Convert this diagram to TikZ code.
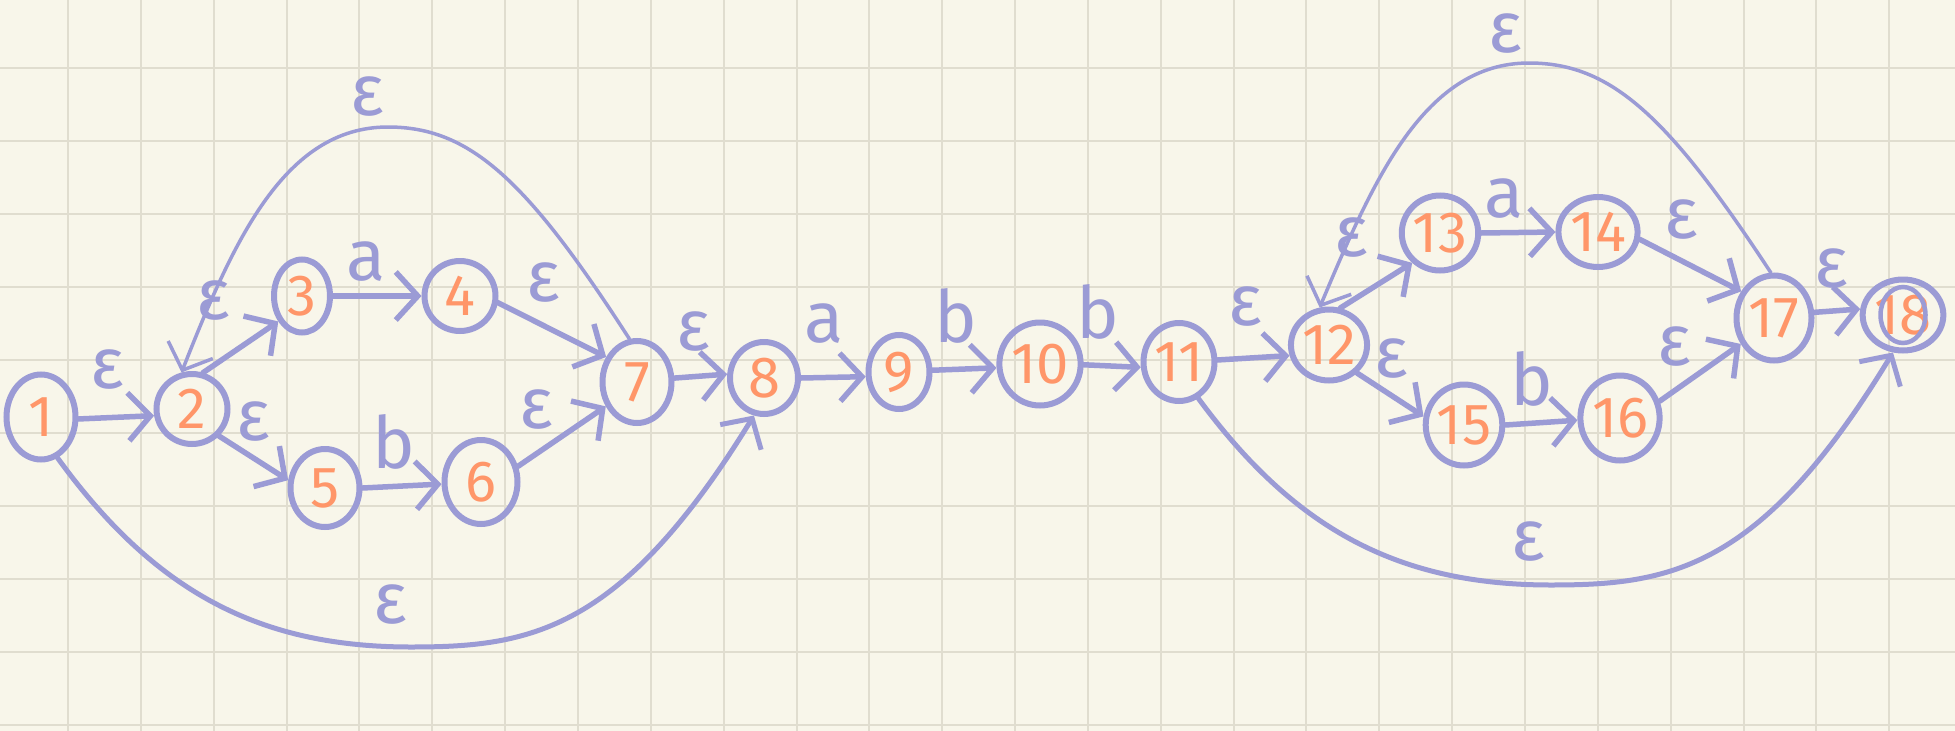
\documentclass[tikz,border=0pt]{standalone}
\usepackage{fontspec}
\setmainfont{Fira Sans}[Numbers=Proportional]
\usetikzlibrary{shapes.geometric,arrows.meta}
\definecolor{paper}{RGB}{248,246,234}
\definecolor{gridc}{RGB}{224,221,207}
\definecolor{ink}{RGB}{155,155,213}
\definecolor{numc}{RGB}{255,150,105}
\begin{document}
\begin{tikzpicture}[x=1pt,y=-1pt,
  st/.style={ellipse, draw=ink, line width=6pt, inner sep=0pt, text=numc,
    font=\fontsize{58}{60}\selectfont},
  tr/.style={draw=ink, line width=5.5pt, line cap=round,
    -{Straight Barb[length=22pt,width=48pt]}},
  thinloop/.style={draw=ink, line width=3.5pt, line cap=round,
    -{Straight Barb[length=22pt,width=48pt]}},
  thickloop/.style={draw=ink, line width=5pt, line cap=round,
    -{Straight Barb[length=22pt,width=48pt]}},
  lab/.style={text=ink, inner sep=0pt, font=\fontsize{72}{80}\selectfont}]
\useasboundingbox (0,0) rectangle (1955,731);
\fill[paper] (0,0) rectangle (1955,731);
\foreach \i in {0,...,25} \draw[gridc, line width=2pt] ({68+72.85*\i},0) -- ({68+72.85*\i},731);
\foreach \j in {0,...,9} \draw[gridc, line width=2pt] (0,{68+73*\j}) -- (1955,{68+73*\j});

% states
\node[st, minimum width=69pt, minimum height=85pt] (n1) at (41,417) {1};
\node[st, minimum width=71pt, minimum height=70pt] (n2) at (192,409) {2};
\node[st, minimum width=56pt, minimum height=73pt] (n3) at (302,296) {3};
\node[st, minimum width=71pt, minimum height=70pt] (n4) at (460,296) {4};
\node[st, minimum width=69pt, minimum height=78pt] (n5) at (325,488) {5};
\node[st, minimum width=73pt, minimum height=84pt] (n6) at (481,482) {6};
\node[st, minimum width=69pt, minimum height=82pt] (n7) at (637,382) {7};
\node[st, minimum width=68pt, minimum height=72pt] (n8) at (764,378) {8};
\node[st, minimum width=61pt, minimum height=74pt] (n9) at (899,372) {9};
\node[st, minimum width=66pt, minimum height=83pt] (n10) at (1040,364) {10};
\node[st, minimum width=71pt, minimum height=78pt] (n11) at (1179,362) {11};
\node[st, minimum width=71pt, minimum height=71pt] (n12) at (1329,345) {12};
\node[st, minimum width=57pt, minimum height=75pt] (n13) at (1440,233) {13};
\node[st, minimum width=71pt, minimum height=70pt] (n14) at (1598,232) {14};
\node[st, minimum width=73pt, minimum height=81pt] (n15) at (1464,425) {15};
\node[st, minimum width=72pt, minimum height=85pt] (n16) at (1620,418) {16};
\node[st, minimum width=75pt, minimum height=85pt] (n17) at (1774,318) {17};
\node[st, minimum width=66pt, minimum height=71pt] (n18) at (1903,315) {18};
\node[st, line width=4.5pt, minimum width=45pt, minimum height=56pt] (n18in) at (1903,315) {};

% transitions
\draw[tr] (n1.-3) -- (n2.190);
\draw[tr] (n2.73) -- (n3.227);
\draw[tr] (n2.-45) -- (n5.168);
\draw[tr] (n3.0) -- (n4.180);
\draw[tr] (n4.-10) -- (n7.141);
\draw[tr] (n5.0) -- (n6.183);
\draw[tr] (n6.23) -- (n7.218);
\draw[tr] (n7.6) -- (n8.174);
\draw[tr] (n8.0) -- (n9.188);
\draw[tr] (n9.3) -- (n10.185);
\draw[tr] (n10.-1) -- (n11.188);
\draw[tr] (n11.3) -- (n12.195);
\draw[tr] (n12.73) -- (n13.227);
\draw[tr] (n12.-45) -- (n15.168);
\draw[tr] (n13.0) -- (n14.180);
\draw[tr] (n14.-10) -- (n17.141);
\draw[tr] (n15.0) -- (n16.183);
\draw[tr] (n16.23) -- (n17.218);
\draw[tr] (n17.8) -- (n18.172);

% long epsilon arcs
\coordinate (topL) at (388,127);
\coordinate (botL) at (411,647);
\coordinate (topR) at (1529,63);
\coordinate (botR) at (1551,585);
\draw[thinloop] (n7.100) .. controls (527,180) and (470,127) .. (topL)
  .. controls (284,127) and (233,242) .. (n2.106);
\draw[thickloop] (n1.-68) .. controls (155,592) and (259,647) .. (botL)
  .. controls (530,647) and (621,632) .. (n8.255);
\draw[thinloop] (n17.94) .. controls (1668,116) and (1611,63) .. (topR)
  .. controls (1425,63) and (1374,178) .. (n12.104);
\draw[thickloop] (n11.-62) .. controls (1295,530) and (1399,585) .. (botR)
  .. controls (1670,585) and (1761,570) .. (n18.255);

% labels
\node[lab] (e12) at (107,370) {ε};
\node[lab] (e23) at (213,301) {ε};
\node[lab] (e25) at (253,422) {ε};
\node[lab] (a34) at (366,262) {a};
\node[lab] (e47) at (543,283) {ε};
\node[lab] (b56) at (394,442) {b};
\node[lab] (e67) at (536,410) {ε};
\node[lab] (e78) at (693,332) {ε};
\node[lab] (a89) at (824,324) {a};
\node[lab] (b910) at (956,316) {b};
\node[lab] (b1011) at (1098,312) {b};
\node[lab] (e1112) at (1245,307) {ε};
\node[lab] (e1213) at (1351,238) {ε};
\node[lab] (e1215) at (1391,359) {ε};
\node[lab] (a1314) at (1504,199) {a};
\node[lab] (e1417) at (1681,220) {ε};
\node[lab] (b1516) at (1532,379) {b};
\node[lab] (e1617) at (1674,347) {ε};
\node[lab] (e1718) at (1831,269) {ε};
\node[lab] (etl) at (367,97) {ε};
\node[lab] (ebl) at (390,605) {ε};
\node[lab] (etr) at (1505,34) {ε};
\node[lab] (ebr) at (1528,542) {ε};
\end{tikzpicture}
\end{document}
